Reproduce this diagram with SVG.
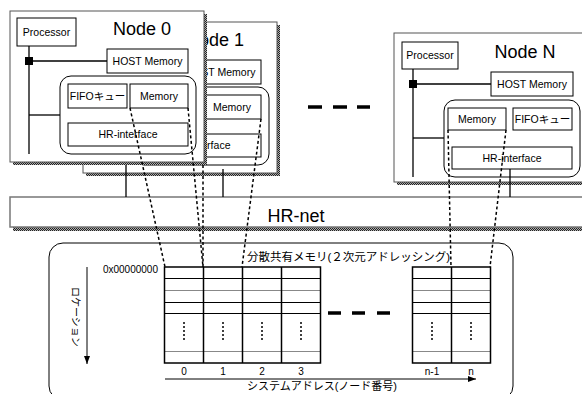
<svg xmlns="http://www.w3.org/2000/svg" width="582" height="394" viewBox="0 0 582 394">
  <defs>
    <pattern id="grain" width="2" height="2" patternUnits="userSpaceOnUse">
      <rect width="2" height="2" fill="#b0b0b0"/>
      <rect width="1" height="1" fill="#222"/>
      <rect x="1" y="1" width="1" height="1" fill="#222"/>
    </pattern>
    <marker id="arrow" viewBox="0 0 8 6" refX="8" refY="3" markerWidth="8" markerHeight="6" orient="auto" markerUnits="userSpaceOnUse">
      <path d="M0,0 L8,3 L0,6 Z" fill="#000"/>
    </marker>
  </defs>
  <style>
    .frame { fill: #fff; stroke: #555; stroke-width: 1; }
    .shadow { fill: url(#grain); }
    .box { fill: #fff; stroke: #000; stroke-width: 1; }
    .grp { fill: #fff; stroke: #000; stroke-width: 1; }
    .wire { stroke: #000; stroke-width: 1.3; fill: none; }
    .dash { stroke: #000; stroke-width: 1.5; stroke-dasharray: 3 2.5; fill: none; }
    .ellipsis { stroke: #000; stroke-width: 3.5; }
    .dots { stroke: #000; stroke-width: 1.5; stroke-dasharray: 2 2; }
    .t { font-family: "Liberation Sans", "Noto Sans CJK JP", sans-serif; fill: #000; }
    .s { font-size: 10.5px; text-anchor: middle; }
    .title { font-size: 18px; }
    .gl { stroke: #000; stroke-width: 1; }
    .gl2 { stroke: #888; stroke-width: 1; }
    .gv { stroke: #000; stroke-width: 1.5; }
  </style>

  <!-- Node 1 (stacked behind Node 0; only its right-hand part shows) -->
  <g id="node1" transform="translate(73,11)">
    <rect class="shadow" x="13" y="14" width="194" height="151"/>
    <rect class="frame" x="10" y="11" width="194" height="151"/>
    <text class="t title" x="142" y="35" text-anchor="middle">Node 1</text>
    <rect class="box" x="107" y="49" width="81" height="24"/>
    <text class="t s" x="147.5" y="65">HOST Memory</text>
    <rect class="grp" x="60" y="76" width="136" height="78" rx="11"/>
    <rect class="box" x="130" y="84" width="58" height="24"/>
    <text class="t s" x="159" y="100">Memory</text>
    <rect class="box" x="68" y="123" width="120" height="23"/>
    <text class="t s" x="128" y="138">HR-interface</text>
  </g>

  <!-- Node 0 -->
  <g id="node0">
    <rect class="shadow" x="13" y="14" width="194" height="151"/>
    <rect class="frame" x="10" y="11" width="194" height="151"/>
    <rect class="box" x="17" y="18" width="59" height="28"/>
    <text class="t s" x="46.5" y="36">Processor</text>
    <text class="t title" x="142" y="35" text-anchor="middle">Node 0</text>
    <line class="wire" x1="29" y1="46" x2="29" y2="154"/>
    <rect x="25" y="57" width="8" height="8" fill="#000"/>
    <line class="wire" x1="29" y1="61" x2="107" y2="61"/>
    <rect class="box" x="107" y="49" width="81" height="24"/>
    <text class="t s" x="147.5" y="65">HOST Memory</text>
    <rect class="grp" x="60" y="76" width="136" height="78" rx="11"/>
    <line class="wire" x1="29" y1="115" x2="60" y2="115"/>
    <rect class="box" x="68" y="84" width="59" height="24"/>
    <text class="t s" x="97.5" y="100">FIFOキュー</text>
    <rect class="box" x="130" y="84" width="58" height="24"/>
    <text class="t s" x="159" y="100">Memory</text>
    <rect class="box" x="68" y="123" width="120" height="23"/>
    <text class="t s" x="128" y="138">HR-interface</text>
  </g>

  <!-- Node N -->
  <g id="nodeN">
    <rect class="shadow" x="397" y="36" width="200" height="149"/>
    <rect class="frame" x="394" y="33" width="200" height="149"/>
    <rect class="box" x="402" y="42" width="56" height="27"/>
    <text class="t s" x="430" y="59">Processor</text>
    <text class="t title" x="525" y="58" text-anchor="middle">Node N</text>
    <line class="wire" x1="413" y1="69" x2="413" y2="177"/>
    <rect x="409" y="80" width="8" height="8" fill="#000"/>
    <line class="wire" x1="413" y1="84" x2="491" y2="84"/>
    <rect class="box" x="491" y="72" width="82" height="24"/>
    <text class="t s" x="532" y="88">HOST Memory</text>
    <rect class="grp" x="444" y="100" width="136" height="77" rx="11"/>
    <line class="wire" x1="413" y1="138" x2="444" y2="138"/>
    <rect class="box" x="448" y="108" width="58" height="22"/>
    <text class="t s" x="477" y="123">Memory</text>
    <rect class="box" x="513" y="108" width="59" height="22"/>
    <text class="t s" x="542.5" y="123">FIFOキュー</text>
    <rect class="box" x="452" y="147" width="120" height="22"/>
    <text class="t s" x="512" y="162">HR-interface</text>
  </g>

  <!-- node ellipsis -->
  <g id="node-ellipsis">
    <line class="ellipsis" x1="308" y1="107" x2="322" y2="107"/>
    <line class="ellipsis" x1="333" y1="107" x2="347" y2="107"/>
    <line class="ellipsis" x1="357" y1="107" x2="370" y2="107"/>
  </g>

  <!-- HR-net -->
  <g id="hrnet">
    <rect class="shadow" x="13" y="227" width="580" height="4"/>
    <rect x="10" y="197" width="580" height="30" fill="#fff" stroke="#777" stroke-width="1.5"/>
    <text class="t" x="296" y="222" font-size="18" text-anchor="middle">HR-net</text>
  </g>

  <!-- Distributed shared memory -->
  <g id="shared-memory">
    <rect x="49" y="243" width="464" height="157" rx="14" fill="none" stroke="#000" stroke-width="1"/>
    <text class="t" x="247" y="261" font-size="11.5">分散共有メモリ(２次元アドレッシング)</text>
    <text class="t" x="158" y="273" font-size="10" text-anchor="end">0x00000000</text>

    <!-- columns 0..3 -->
    <g id="grid-left">
      <line class="gl" x1="164.5" y1="278.5" x2="320.5" y2="278.5"/>
      <line class="gl2" x1="164.5" y1="290.5" x2="320.5" y2="290.5"/>
      <line class="gl" x1="164.5" y1="302.5" x2="320.5" y2="302.5"/>
      <line class="gl" x1="164.5" y1="313.5" x2="320.5" y2="313.5"/>
      <line class="gl2" x1="164.5" y1="351.5" x2="320.5" y2="351.5"/>
      <rect x="164.5" y="267" width="156" height="96" fill="none" stroke="#000" stroke-width="1.5"/>
      <line class="gv" x1="203.5" y1="267" x2="203.5" y2="363"/>
      <line class="gv" x1="242.5" y1="267" x2="242.5" y2="363"/>
      <line class="gv" x1="281.5" y1="267" x2="281.5" y2="363"/>
      <line class="dots" x1="184" y1="322" x2="184" y2="342"/>
      <line class="dots" x1="223" y1="322" x2="223" y2="342"/>
      <line class="dots" x1="262" y1="322" x2="262" y2="342"/>
      <line class="dots" x1="301" y1="322" x2="301" y2="342"/>
    </g>

    <!-- columns n-1, n -->
    <g id="grid-right">
      <line class="gl" x1="412.5" y1="278.5" x2="490.5" y2="278.5"/>
      <line class="gl2" x1="412.5" y1="290.5" x2="490.5" y2="290.5"/>
      <line class="gl" x1="412.5" y1="302.5" x2="490.5" y2="302.5"/>
      <line class="gl" x1="412.5" y1="313.5" x2="490.5" y2="313.5"/>
      <line class="gl2" x1="412.5" y1="351.5" x2="490.5" y2="351.5"/>
      <rect x="412.5" y="267" width="78" height="96" fill="none" stroke="#000" stroke-width="1.5"/>
      <line class="gv" x1="451.5" y1="267" x2="451.5" y2="363"/>
      <line class="dots" x1="432" y1="322" x2="432" y2="342"/>
      <line class="dots" x1="471" y1="322" x2="471" y2="342"/>
    </g>

    <line class="ellipsis" x1="328" y1="313" x2="341" y2="313"/>
    <line class="ellipsis" x1="352" y1="313" x2="365" y2="313"/>
    <line class="ellipsis" x1="377" y1="313" x2="390" y2="313"/>

    <g class="t" font-size="10" text-anchor="middle">
      <text x="184" y="375">0</text>
      <text x="223" y="375">1</text>
      <text x="262" y="375">2</text>
      <text x="301" y="375">3</text>
      <text x="432" y="375">n-1</text>
      <text x="471" y="375">n</text>
    </g>

    <line x1="165" y1="379" x2="476" y2="379" stroke="#000" stroke-width="1" marker-end="url(#arrow)"/>
    <text class="t" x="247" y="390" font-size="11">システムアドレス(ノード番号)</text>

    <line x1="87" y1="267" x2="87" y2="364" stroke="#000" stroke-width="1" marker-end="url(#arrow)"/>
    <text class="t" transform="translate(72,287) rotate(90)" font-size="10">ロケーション</text>
  </g>

  <!-- connectors -->
  <g id="connectors">
    <line class="wire" x1="126" y1="165" x2="126" y2="197"/>
    <line class="wire" x1="223" y1="169" x2="223" y2="197"/>
    <line class="wire" x1="510" y1="169" x2="510" y2="197"/>
    <line class="dash" x1="130" y1="108" x2="165" y2="267"/>
    <line class="dash" x1="188" y1="108" x2="203" y2="267"/>
    <line class="dash" x1="203" y1="165" x2="203" y2="267"/>
    <line class="dash" x1="261" y1="119" x2="242" y2="267"/>
    <line class="dash" x1="448" y1="130" x2="451" y2="267"/>
    <line class="dash" x1="506" y1="130" x2="490" y2="267"/>
  </g>
</svg>
